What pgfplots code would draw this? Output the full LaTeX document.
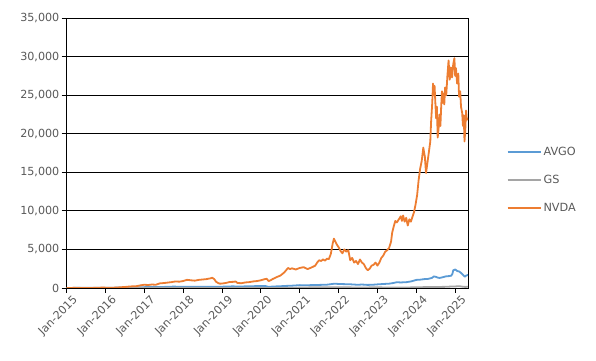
\documentclass[border=0pt]{standalone}
\usepackage{pgfplots}
\pgfplotsset{compat=1.18}
\usepackage{fontspec}
\setmainfont{DejaVu Sans}
\definecolor{avgo}{HTML}{5B9BD5}
\definecolor{gs}{HTML}{A5A5A5}
\definecolor{nvda}{HTML}{ED7D31}
\definecolor{txt}{HTML}{595959}
\begin{document}
\begin{tikzpicture}
\path[use as bounding box] (0,0) rectangle (596bp,361bp);
\begin{axis}[
  at={(66.5bp,73bp)}, anchor=south west,
  scale only axis, width=401.5bp, height=270bp,
  xmin=2015, xmax=2025.33, ymin=0, ymax=35000,
  xtick={2015,2016,2017,2018,2019,2020,2021,2022,2023,2024,2025},
  xticklabels={Jan-2015,Jan-2016,Jan-2017,Jan-2018,Jan-2019,Jan-2020,Jan-2021,Jan-2022,Jan-2023,Jan-2024,Jan-2025},
  xticklabel style={rotate=45, anchor=north east, font=\fontsize{11.2}{13}\selectfont, text=txt, inner sep=1bp, xshift=4bp, yshift=-4bp},
  ytick={0,5000,10000,15000,20000,25000,30000,35000},
  yticklabel style={font=\fontsize{11.2}{13}\selectfont, text=txt, inner sep=2bp},
  /pgf/number format/.cd, 1000 sep={,}, assume math mode=true, /pgfplots/.cd,
  scaled y ticks=false,
  tick align=outside, tickwidth=5bp, tick style={black, line width=0.8bp},
  xtick pos=bottom, ytick pos=left,
  axis line style={black, line width=0.8bp},
  ymajorgrids, grid style={black, line width=0.8bp},
  legend style={at={(1.096,0.4)}, anchor=west, draw=none, fill=none,
    font=\fontsize{11.3}{13}\selectfont, text=txt, row sep=14.5bp, inner sep=0pt},
  legend cell align=left,
  legend image code/.code={\draw[#1, line width=1.8bp] (0bp,0bp) -- (33bp,0bp);},
  every axis plot/.append style={line width=1.8bp, line join=round},
]
\addplot[avgo] coordinates {
(2015.0,0) (2015.25,20) (2015.5,30) (2015.75,25) (2016.0,40) (2016.25,45) (2016.5,60) (2016.75,90) (2017.0,110) (2017.25,120) (2017.5,140) (2017.75,180) (2018.0,160) (2018.25,150) (2018.5,150) (2018.75,170) (2019.0,170) (2019.25,210) (2019.5,200) (2019.75,230) (2020.0,260) (2020.1,270) (2020.2,150) (2020.35,200) (2020.5,230) (2020.65,270) (2020.8,300) (2021.0,370) (2021.2,360) (2021.4,390) (2021.5,400) (2021.7,430) (2021.9,560) (2022.0,520) (2022.15,500) (2022.3,480) (2022.45,430) (2022.5,420) (2022.6,450) (2022.75,400) (2022.9,430) (2023.0,470) (2023.15,520) (2023.3,560) (2023.4,640) (2023.5,750) (2023.6,720) (2023.75,760) (2023.85,840) (2023.9,900) (2024.0,1050) (2024.1,1080) (2024.2,1150) (2024.3,1180) (2024.4,1300) (2024.45,1500) (2024.5,1450) (2024.55,1350) (2024.6,1300) (2024.7,1420) (2024.75,1500) (2024.85,1550) (2024.9,1600) (2024.93,1850) (2024.95,2300) (2024.98,2350) (2025.0,2400) (2025.03,2300) (2025.05,2200) (2025.1,2150) (2025.15,1950) (2025.2,1700) (2025.25,1450) (2025.28,1600) (2025.33,1700)
};
\addlegendentry{AVGO}
\addplot[gs] coordinates {
(2015.0,0) (2015.25,15) (2015.5,10) (2015.75,5) (2016.0,-10) (2016.25,-5) (2016.5,-15) (2016.75,10) (2017.0,25) (2017.25,20) (2017.5,20) (2017.75,30) (2018.0,35) (2018.25,25) (2018.5,20) (2018.75,5) (2019.0,-10) (2019.25,15) (2019.5,10) (2019.75,20) (2020.0,30) (2020.2,-10) (2020.5,10) (2020.75,25) (2020.9,40) (2021.0,50) (2021.25,80) (2021.5,100) (2021.75,105) (2021.9,110) (2022.1,95) (2022.3,80) (2022.5,65) (2022.7,70) (2022.9,90) (2023.0,85) (2023.25,70) (2023.5,75) (2023.75,70) (2024.0,90) (2024.25,120) (2024.5,130) (2024.75,150) (2024.9,190) (2025.0,200) (2025.1,240) (2025.2,160) (2025.27,140) (2025.33,170)
};
\addlegendentry{GS}
\addplot[nvda] coordinates {
(2015.0,0) (2015.1,10) (2015.2,15) (2015.3,5) (2015.4,0) (2015.5,-5) (2015.6,-10) (2015.7,15) (2015.8,30) (2015.9,50) (2016.0,45) (2016.1,20) (2016.2,40) (2016.3,60) (2016.4,100) (2016.5,130) (2016.6,180) (2016.7,220) (2016.8,240) (2016.9,340) (2017.0,420) (2017.1,390) (2017.2,450) (2017.3,420) (2017.4,600) (2017.5,640) (2017.6,700) (2017.7,760) (2017.8,850) (2017.9,820) (2018.0,900) (2018.1,1060) (2018.2,1000) (2018.3,950) (2018.4,1050) (2018.5,1100) (2018.6,1150) (2018.7,1250) (2018.75,1330) (2018.8,1150) (2018.85,800) (2018.9,650) (2018.95,560) (2019.0,580) (2019.1,650) (2019.2,780) (2019.3,800) (2019.35,850) (2019.4,650) (2019.5,620) (2019.6,720) (2019.7,760) (2019.8,850) (2019.9,900) (2020.0,1000) (2020.1,1150) (2020.15,1200) (2020.2,900) (2020.25,1000) (2020.3,1150) (2020.4,1400) (2020.5,1600) (2020.6,2000) (2020.65,2300) (2020.7,2600) (2020.75,2450) (2020.8,2550) (2020.9,2400) (2021.0,2600) (2021.1,2700) (2021.2,2450) (2021.3,2650) (2021.4,2900) (2021.45,3300) (2021.5,3600) (2021.55,3500) (2021.6,3700) (2021.65,3550) (2021.7,3800) (2021.75,3750) (2021.8,4400) (2021.85,5800) (2021.88,6400) (2021.92,6000) (2021.96,5600) (2022.0,5300) (2022.05,4800) (2022.1,4500) (2022.15,5000) (2022.2,4700) (2022.25,4900) (2022.3,3600) (2022.35,3900) (2022.4,3300) (2022.45,3500) (2022.5,3100) (2022.55,3700) (2022.6,3300) (2022.65,3100) (2022.7,2600) (2022.75,2300) (2022.8,2500) (2022.85,2900) (2022.9,3000) (2022.95,3300) (2023.0,2900) (2023.05,3300) (2023.1,3900) (2023.15,4200) (2023.2,4700) (2023.25,4900) (2023.3,5200) (2023.35,6000) (2023.38,7200) (2023.42,8000) (2023.46,8700) (2023.5,8500) (2023.55,8900) (2023.6,9300) (2023.63,8700) (2023.66,9400) (2023.7,8600) (2023.74,9100) (2023.78,8100) (2023.82,8900) (2023.86,8600) (2023.9,9200) (2023.94,9800) (2023.98,10800) (2024.02,12000) (2024.06,14000) (2024.1,15500) (2024.14,16500) (2024.18,18200) (2024.22,17000) (2024.25,14900) (2024.28,16000) (2024.32,17500) (2024.36,19000) (2024.38,21500) (2024.41,24000) (2024.43,26500) (2024.45,25000) (2024.47,26200) (2024.49,24000) (2024.51,22000) (2024.53,23500) (2024.55,19500) (2024.57,20500) (2024.6,22500) (2024.62,21000) (2024.64,23500) (2024.66,25500) (2024.68,24000) (2024.7,25200) (2024.72,23800) (2024.74,26000) (2024.77,25000) (2024.8,27500) (2024.83,29500) (2024.86,27000) (2024.89,28600) (2024.92,27300) (2024.95,29000) (2024.98,29800) (2025.0,27500) (2025.02,28500) (2025.05,26500) (2025.08,27800) (2025.1,24800) (2025.13,25500) (2025.15,23500) (2025.18,22700) (2025.2,21000) (2025.22,22400) (2025.24,19000) (2025.26,20500) (2025.28,23000) (2025.3,21800) (2025.33,22000)
};
\addlegendentry{NVDA}
\end{axis}
\end{tikzpicture}
\end{document}
